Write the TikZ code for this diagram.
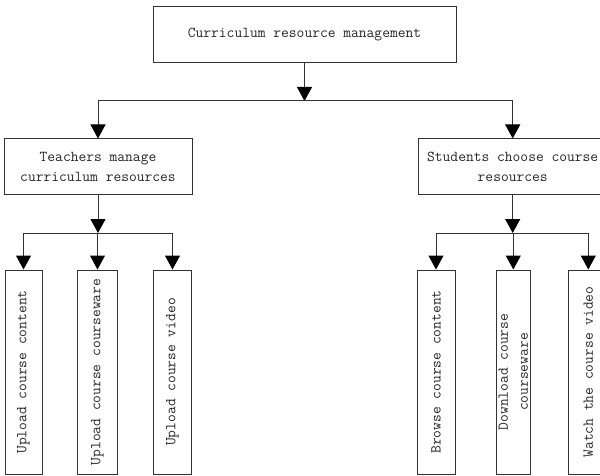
\documentclass[tikz,border=0pt]{standalone}
\usetikzlibrary{arrows.meta}
\begin{document}
\begin{tikzpicture}[x=1pt,y=-1pt,
  box/.style={draw=black!80, line width=1pt, inner sep=0pt, text=black!85,
    font=\ttfamily\fontsize{15.1}{20}\selectfont, align=center},
  hbox/.style={box, minimum height=56pt},
  vbox/.style={box, rotate=90, minimum width=204pt},
  conn/.style={draw=black!80, line width=1pt},
  arr/.style={conn, -{Triangle[width=15pt,length=14pt,fill=black,color=black]}}]
\useasboundingbox (0,0) rectangle (600,476);
\clip (0,0) rectangle (600,476);
% top
\node[hbox, minimum width=303pt] (top) at (304.5,35) {Curriculum resource management};
% second level
\node[hbox, minimum width=188pt] (tm) at (98,167) {Teachers manage\\curriculum resources};
\node[hbox, minimum width=189pt] (sc) at (512.7,167) {Students choose course\\resources};
% third level
\node[vbox, minimum height=37pt] (l1) at (23.5,372) {Upload course content};
\node[vbox, minimum height=40pt] (l2) at (97.5,372) {Upload course courseware};
\node[vbox, minimum height=38pt] (l3) at (172.5,372) {Upload course video};
\node[vbox, minimum height=38pt] (r1) at (436,372) {Browse course content};
\node[vbox, minimum height=34pt] (r2) at (513.3,372) {Download course\\courseware};
\node[vbox, minimum height=40pt] (r3) at (588.3,372) {Watch the course video};
% connectors
\coordinate (j1) at (304.5,101);
\coordinate (j2) at (98,233);
\coordinate (j3) at (512.7,233);
\draw[arr] (top.south) -- (j1);
\draw[conn] (tm.north |- j1) -- (sc.north |- j1);
\draw[arr] (tm.north |- j1) -- (tm.north);
\draw[arr] (sc.north |- j1) -- (sc.north);
\draw[arr] (tm.south) -- (j2);
\draw[arr] (sc.south) -- (j3);
\draw[conn] (l1 |- j2) -- (l3 |- j2);
\draw[conn] (r1 |- j3) -- (r3 |- j3);
\draw[arr] (l1 |- j2) -- (l1);
\draw[arr] (l2 |- j2) -- (l2);
\draw[arr] (l3 |- j2) -- (l3);
\draw[arr] (r1 |- j3) -- (r1);
\draw[arr] (r2 |- j3) -- (r2);
\draw[arr] (r3 |- j3) -- (r3);
\end{tikzpicture}
\end{document}
